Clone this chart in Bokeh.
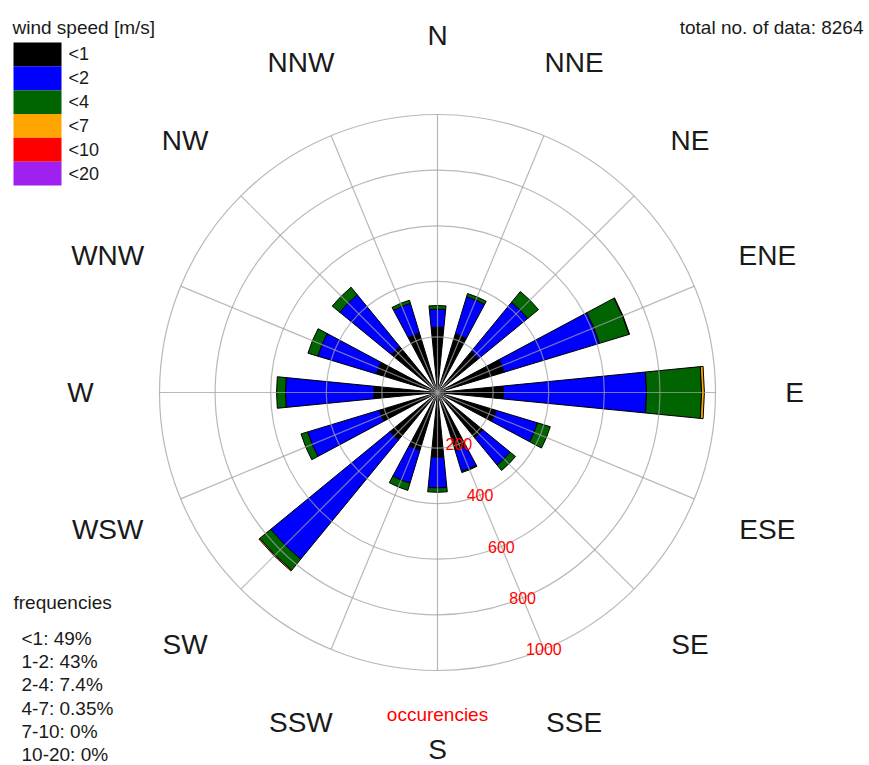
import numpy as np
from bokeh.plotting import figure
from bokeh.models import Range1d, ColumnDataSource
from bokeh.core.properties import value
from bokeh.embed import file_html
from bokeh.resources import INLINE

# ---------------- data ----------------
directions = ["N", "NNE", "NE", "ENE", "E", "ESE", "SE", "SSE",
              "S", "SSW", "SW", "WSW", "W", "WNW", "NW", "NNW"]
speed_classes = ["<1", "<2", "<4", "<7", "<10", "<20"]
class_colors = ["#000000", "#0000ff", "#006400", "#ffa500", "#ff0000", "#a020f0"]
count_lt1 = [235, 220, 191, 251, 237, 220, 211, 219, 233, 217, 221, 219, 229, 230, 214, 223]
count_1_2 = [65, 140, 229, 358, 515, 156, 127, 78, 110, 124, 555, 269, 318, 220, 241, 112]
count_2_4 = [13, 12, 50, 111, 198, 48, 25, 4, 16, 27, 51, 25, 32, 37, 35, 12]
count_4_7 = [0, 0, 0, 2, 10, 0, 0, 0, 0, 0, 4, 0, 0, 0, 0, 0]
count_7_10 = [0] * 16
count_10_20 = [0] * 16
ring_values = [200, 400, 600, 800, 1000]
freq_labels = ["<1: 49%", "1-2: 43%", "2-4: 7.4%", "4-7: 0.35%", "7-10: 0%", "10-20: 0%"]
total_n = 8264

# ---------------- layout ----------------
W, H = 869, 765
CX, CY = 437, 392          # centre of rose in canvas px
PX = 0.278                 # px per count


def X(page_x):
    return (page_x - CX) / PX


def Y(page_y):
    return (CY - page_y) / PX


FONT = value("Liberation Sans")

p = figure(width=W, height=H, output_backend="svg", toolbar_location=None,
           x_range=Range1d(-CX / PX, (W - CX) / PX),
           y_range=Range1d(-(H - CY) / PX, CY / PX),
           x_axis_type=None, y_axis_type=None, min_border=0)
p.outline_line_color = None
p.background_fill_color = "white"
p.border_fill_color = "white"

# ---------------- bars ----------------
compass = np.arange(16) * 22.5
math_ang = np.deg2rad(90.0 - compass)
half = np.deg2rad(22.5 / 4)

counts = np.array([count_lt1, count_1_2, count_2_4, count_4_7, count_7_10, count_10_20], dtype=float)
cum = np.cumsum(counts, axis=0)
for k, col in enumerate(class_colors):
    inner = cum[k - 1] if k > 0 else np.zeros(16)
    outer = cum[k]
    m = outer > inner
    if not m.any():
        continue
    src = ColumnDataSource(dict(inner=inner[m], outer=outer[m],
                                start=(math_ang - half)[m], end=(math_ang + half)[m]))
    p.annular_wedge(x=0, y=0, inner_radius="inner", outer_radius="outer",
                    start_angle="start", end_angle="end", source=src,
                    fill_color=col, line_color="black", line_width=1)

# ---------------- grid (on top) ----------------
rmax = max(ring_values)
p.arc(x=[0] * len(ring_values), y=[0] * len(ring_values), radius=ring_values,
      start_angle=0, end_angle=2 * np.pi, line_color="#a0a0a0", line_alpha=0.75, line_width=1.2)
p.segment(x0=np.zeros(16), y0=np.zeros(16), x1=rmax * np.cos(math_ang), y1=rmax * np.sin(math_ang),
          line_color="#a0a0a0", line_alpha=0.75, line_width=1.2)

# ring labels along SSE spoke
a_sse = np.deg2rad(90.0 - 157.5)
p.text(x=[r * np.cos(a_sse) for r in ring_values], y=[r * np.sin(a_sse) for r in ring_values],
       text=[str(r) for r in ring_values], text_align="center", text_baseline="middle",
       text_color="#ff0000", text_font=FONT, text_font_size=value("16px"))

# direction labels
rl = 357 / PX
p.text(x=rl * np.cos(math_ang), y=rl * np.sin(math_ang), text=directions,
       text_align="center", text_baseline="middle", text_color="#1a1a1a",
       text_font=FONT, text_font_size=value("28px"))

# occurencies label
p.text(x=[0], y=[Y(714)], text=["occurencies"], text_align="center", text_baseline="alphabetic",
       text_color="#ff0000", text_font=FONT, text_font_size=value("19px"))

# total
p.text(x=[X(863)], y=[Y(27)], text=["total no. of data: %d" % total_n], text_align="right",
       text_baseline="alphabetic", text_color="#1a1a1a", text_font=FONT, text_font_size=value("19px"))

# legend
p.text(x=[X(12)], y=[Y(27)], text=["wind speed [m/s]"], text_align="left",
       text_baseline="alphabetic", text_color="#1a1a1a", text_font=FONT, text_font_size=value("19px"))
box_h = 23.83
tops = [42 + i * box_h for i in range(len(speed_classes))]
p.quad(left=X(13), right=X(61), top=[Y(t) for t in tops], bottom=[Y(t + box_h) for t in tops],
       fill_color=class_colors, line_color=None)
p.text(x=[X(68)] * len(speed_classes), y=[Y(t + box_h / 2) for t in tops], text=speed_classes,
       text_align="left", text_baseline="middle", text_color="#1a1a1a",
       text_font=FONT, text_font_size=value("18px"))

# frequencies
p.text(x=[X(13)], y=[Y(602)], text=["frequencies"], text_align="left", text_baseline="alphabetic",
       text_color="#1a1a1a", text_font=FONT, text_font_size=value("19px"))
p.text(x=[X(21)] * len(freq_labels), y=[Y(638 + i * 23.2) for i in range(len(freq_labels))],
       text=freq_labels, text_align="left", text_baseline="alphabetic", text_color="#1a1a1a",
       text_font=FONT, text_font_size=value("19px"))

open("out.html", "w").write(file_html(p, INLINE))
